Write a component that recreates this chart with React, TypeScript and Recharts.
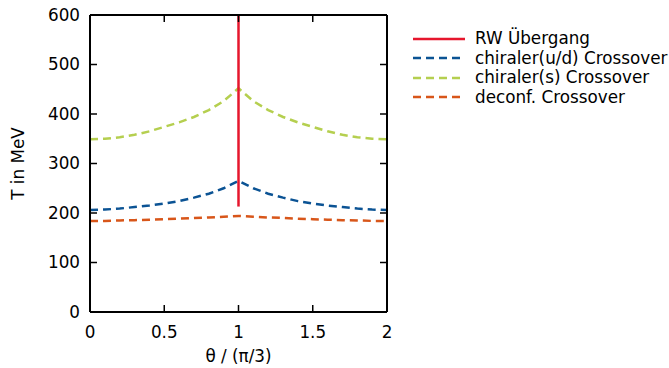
import React from 'react';
import { LineChart, Line, XAxis, YAxis } from 'recharts';

const thetaValues = [0, 0.1, 0.2, 0.3, 0.4, 0.5, 0.6, 0.7, 0.8, 0.9, 1.0, 1.1, 1.2, 1.3, 1.4, 1.5, 1.6, 1.7, 1.8, 1.9, 2.0];
const chiralUD = [206, 207, 209, 212, 215, 219, 224, 231, 239, 250, 265, 250, 239, 231, 224, 219, 215, 212, 209, 207, 206];
const chiralS = [349, 350, 353, 358, 365, 374, 383, 394, 408, 426, 452, 426, 408, 394, 383, 374, 365, 358, 353, 350, 349];
const deconf = [184, 184, 185, 185.5, 186.5, 187.5, 188.5, 190, 191, 192.5, 194, 192.5, 191, 190, 188.5, 187.5, 186.5, 185.5, 185, 184, 184];
const rwTheta = [1, 1];
const rwT = [213, 600];

const xTicks = [0, 0.5, 1, 1.5, 2];
const xTickLabels = ['0', '0.5', '1', '1.5', '2'];
const yTicks = [0, 100, 200, 300, 400, 500, 600];

const legendLabels = ['RW Übergang', 'chiraler(u/d) Crossover', 'chiraler(s) Crossover', 'deconf. Crossover'];

const RED = '#e6162d';
const BLUE = '#0b5394';
const GREEN = '#b5cf4f';
const ORANGE = '#d8561a';

const data = thetaValues.map((t, i) => ({ theta: t, ud: chiralUD[i], s: chiralS[i], dc: deconf[i] }));
const rwData = rwTheta.map((t, i) => ({ theta: t, rw: rwT[i] }));

const FONT = 'DejaVu Sans';
const FS = 16.8;
const fmtX = (v: number) => xTickLabels[xTicks.indexOf(v)] ?? String(v);
const NoTick = () => <g />;

export default function App() {
  const legendItems = [
    { label: legendLabels[0], color: RED, dash: undefined },
    { label: legendLabels[1], color: BLUE, dash: '8 5' },
    { label: legendLabels[2], color: GREEN, dash: '8 5' },
    { label: legendLabels[3], color: ORANGE, dash: '8 5' },
  ];
  const tickLine = { stroke: '#000', strokeWidth: 1.5 };
  return (
    <div style={{ position: 'absolute', left: 0, top: 0, width: 669, height: 368, background: '#fff', fontFamily: FONT }}>
      <LineChart width={669} height={368} margin={{ top: 15, right: 282, bottom: 16, left: 40 }}>
        <XAxis xAxisId="b" dataKey="theta" type="number" domain={[0, 2]} ticks={xTicks} tickFormatter={fmtX}
          allowDuplicatedCategory={false}
          height={40} tickLine={false} tickMargin={8}
          axisLine={{ stroke: '#000', strokeWidth: 2 }}
          tick={{ fill: '#000', fontSize: FS, fontFamily: FONT }}
          label={{ value: 'θ / (π/3)', position: 'insideBottom', offset: 0, dy: 10, fill: '#000', fontSize: FS, fontFamily: FONT }} />
        <XAxis xAxisId="bm" dataKey="theta" type="number" domain={[0, 2]} ticks={xTicks} orientation="bottom" mirror
          allowDuplicatedCategory={false}
          height={30} tick={NoTick} tickSize={7} tickLine={tickLine} axisLine={false} />
        <XAxis xAxisId="t" dataKey="theta" type="number" domain={[0, 2]} ticks={xTicks} orientation="top" mirror
          allowDuplicatedCategory={false}
          height={30} tick={NoTick} tickSize={7} tickLine={tickLine}
          axisLine={{ stroke: '#000', strokeWidth: 2 }} />
        <YAxis yAxisId="l" type="number" domain={[0, 600]} ticks={yTicks} width={50} tickLine={false} tickMargin={4}
          axisLine={{ stroke: '#000', strokeWidth: 2 }}
          tick={{ fill: '#000', fontSize: FS, fontFamily: FONT }}
          label={{ value: 'T in MeV', angle: -90, position: 'insideLeft', offset: -22, fill: '#000', fontSize: FS, fontFamily: FONT, style: { textAnchor: 'middle' } }} />
        <YAxis yAxisId="lm" type="number" domain={[0, 600]} ticks={yTicks} mirror width={30}
          tick={NoTick} tickSize={7} tickLine={tickLine} axisLine={false} />
        <YAxis yAxisId="r" type="number" domain={[0, 600]} ticks={yTicks} orientation="right" mirror width={30}
          tick={NoTick} tickSize={7} tickLine={tickLine}
          axisLine={{ stroke: '#000', strokeWidth: 2 }} />
        <Line xAxisId="t" yAxisId="r" data={data} dataKey="s" stroke="none" strokeWidth={0} dot={false} activeDot={false} legendType="none" isAnimationActive={false} />
        <Line xAxisId="bm" yAxisId="lm" data={data} dataKey="s" stroke="none" strokeWidth={0} dot={false} activeDot={false} legendType="none" isAnimationActive={false} />
        <Line xAxisId="b" yAxisId="l" data={data} dataKey="s" stroke={GREEN} strokeWidth={2.5} strokeDasharray="8 5" dot={false} isAnimationActive={false} />
        <Line xAxisId="b" yAxisId="l" data={data} dataKey="ud" stroke={BLUE} strokeWidth={2.5} strokeDasharray="8 5" dot={false} isAnimationActive={false} />
        <Line xAxisId="b" yAxisId="l" data={data} dataKey="dc" stroke={ORANGE} strokeWidth={2.5} strokeDasharray="8 5" dot={false} isAnimationActive={false} />
        <Line xAxisId="b" yAxisId="l" data={rwData} dataKey="rw" stroke={RED} strokeWidth={2.5} dot={false} isAnimationActive={false} />
      </LineChart>
      <div style={{ position: 'absolute', left: 413, top: 29 }}>
        {legendItems.map((it) => (
          <div key={it.label} style={{ display: 'flex', alignItems: 'center', height: 19.5 }}>
            <svg width={52} height={6} style={{ display: 'block' }}>
              <line x1={0} y1={3} x2={52} y2={3} stroke={it.color} strokeWidth={2.5} strokeDasharray={it.dash} />
            </svg>
            <span style={{ marginLeft: 10, fontSize: FS, lineHeight: '19.5px', color: '#000', whiteSpace: 'nowrap' }}>{it.label}</span>
          </div>
        ))}
      </div>
    </div>
  );
}
